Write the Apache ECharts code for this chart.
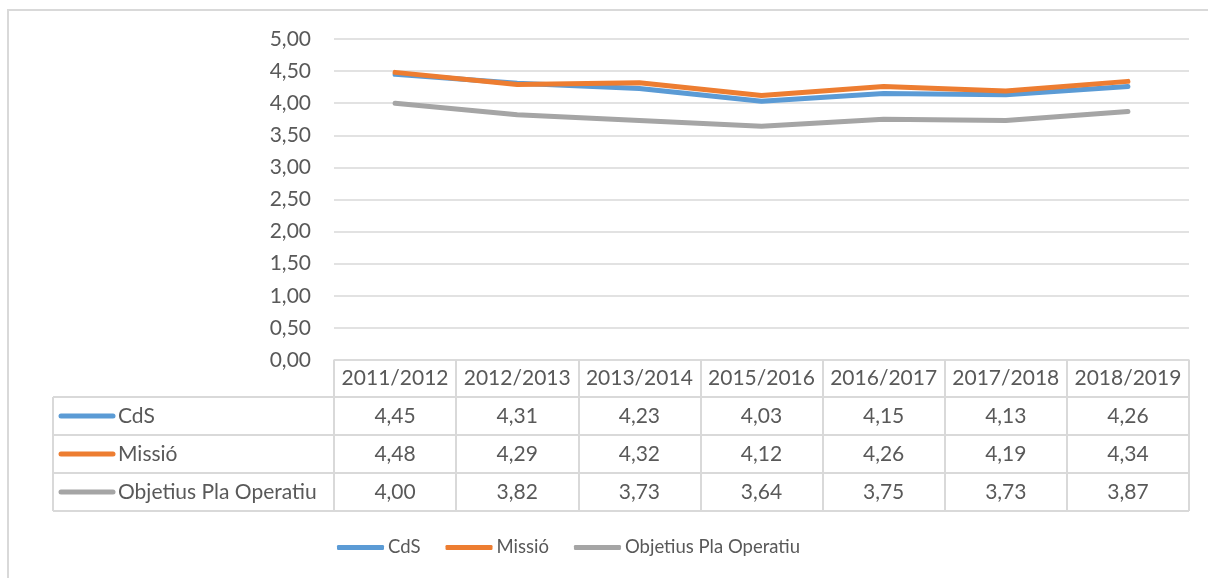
<!DOCTYPE html>
<html>
<head>
<meta charset="utf-8">
<script src="https://cdn.jsdelivr.net/npm/echarts@6/dist/echarts.min.js"></script>
<style>
  html, body { margin: 0; padding: 0; background: #fff; }
  #main { width: 1208px; height: 578px; }
</style>
</head>
<body>
<div id="main"></div>
<script>
// dades del gràfic
var cursos = ['2011/2012', '2012/2013', '2013/2014', '2015/2016', '2016/2017', '2017/2018', '2018/2019'];
var noms = ['CdS', 'Missió', 'Objetius Pla Operatiu'];
var cds = [4.45, 4.31, 4.23, 4.03, 4.15, 4.13, 4.26];
var missio = [4.48, 4.29, 4.32, 4.12, 4.26, 4.19, 4.34];
var objetius = [4.00, 3.82, 3.73, 3.64, 3.75, 3.73, 3.87];
var yTicks = [0, 0.5, 1, 1.5, 2, 2.5, 3, 3.5, 4, 4.5, 5];

var colors = ['#5B9BD5', '#ED7D31', '#A5A5A5'];
var files = [cds, missio, objetius];
var txt = '#595959';
var gridCol = '#D9D9D9';
var font = 'Lato';
var fs = 21;

var G = { left: 334, right: 19, top: 39, bottom: 218 };
var axisY = 578 - G.bottom;          // 360
var rowLines = [397, 435, 473, 511];  // separadors de la taula
var rowCenters = [416, 454, 492];
var tableLeft = 53;
var tableRight = 1208 - G.right;

function coma(v) { return v.toFixed(2).replace('.', ','); }

var myChart = echarts.init(document.getElementById('main'));

var xAxes = [{
  type: 'category',
  data: cursos,
  position: 'bottom',
  boundaryGap: true,
  axisLine: { show: true, lineStyle: { color: gridCol, width: 1.5 } },
  axisTick: { show: true, interval: 0, length: rowLines[3] - axisY, lineStyle: { color: gridCol, width: 2 } },
  axisLabel: { interval: 0, margin: 18, verticalAlign: 'middle', color: txt, fontSize: fs, fontFamily: font }
}];
files.forEach(function (vals, k) {
  xAxes.push({
    type: 'category',
    data: cursos,
    position: 'bottom',
    axisLine: { show: false },
    axisTick: { show: false },
    axisLabel: {
      interval: 0,
      margin: rowCenters[k] - axisY,
      verticalAlign: 'middle',
      color: txt, fontSize: fs, fontFamily: font,
      formatter: function (v, i) { return coma(vals[i]); }
    }
  });
});

var graphic = [{
  type: 'rect',
  shape: { x: 8, y: 10, width: 1300, height: 700 },
  style: { fill: 'none', stroke: gridCol, lineWidth: 2 },
  silent: true
}, {
  type: 'line',
  shape: { x1: tableLeft, y1: rowLines[0], x2: tableLeft, y2: rowLines[3] },
  style: { stroke: gridCol, lineWidth: 2 }
}];
rowLines.forEach(function (y) {
  graphic.push({
    type: 'line',
    shape: { x1: tableLeft, y1: y, x2: tableRight, y2: y },
    style: { stroke: gridCol, lineWidth: 2 }
  });
});
noms.forEach(function (n, k) {
  graphic.push({
    type: 'line',
    shape: { x1: 61, y1: rowCenters[k], x2: 113, y2: rowCenters[k] },
    style: { stroke: colors[k], lineWidth: 5, lineCap: 'round' }
  });
  graphic.push({
    type: 'text',
    x: 118, y: rowCenters[k],
    style: { text: n, fill: txt, fontSize: fs, fontFamily: font, verticalAlign: 'middle', align: 'left' }
  });
});

var option = {
  animation: false,
  color: colors,
  textStyle: { fontFamily: font },
  grid: { left: G.left, right: G.right, top: G.top, bottom: G.bottom, containLabel: false },
  legend: {
    data: noms,
    left: 337,
    top: 538,
    padding: 0,
    icon: 'roundRect',
    itemWidth: 47,
    itemHeight: 5,
    itemGap: 25,
    textStyle: { color: txt, fontSize: 18.5, fontFamily: font, padding: [0, 0, 0, -1] }
  },
  xAxis: xAxes,
  yAxis: {
    type: 'value',
    min: yTicks[0],
    max: yTicks[yTicks.length - 1],
    interval: yTicks[1] - yTicks[0],
    axisLine: { show: false },
    axisTick: { show: false },
    splitLine: { lineStyle: { color: gridCol, width: 1.5 } },
    axisLabel: { margin: 23, color: txt, fontSize: fs, fontFamily: font, formatter: function (v) { return coma(v); } }
  },
  series: noms.map(function (n, k) {
    return {
      name: n,
      type: 'line',
      data: files[k],
      symbol: 'none',
      lineStyle: { width: 5, color: colors[k], cap: 'round', join: 'round' },
      z: 3 + k
    };
  }),
  graphic: graphic
};
myChart.setOption(option);
</script>
</body>
</html>
